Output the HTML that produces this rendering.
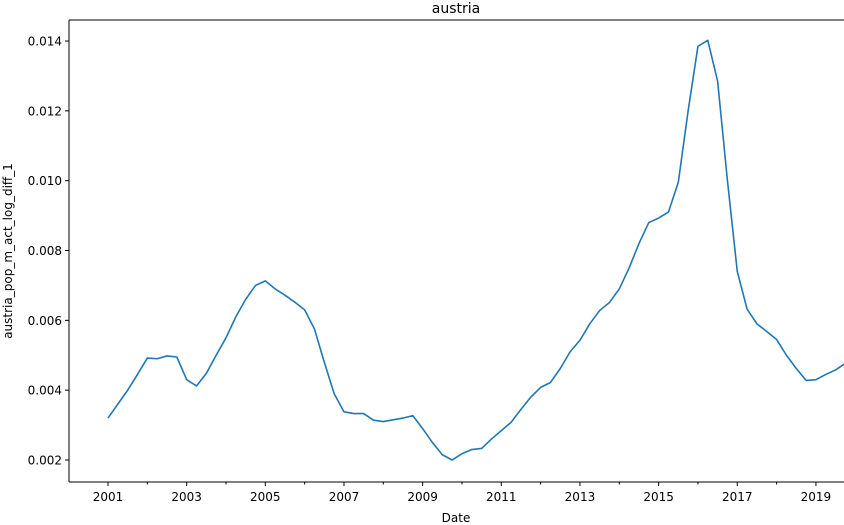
<!DOCTYPE html>
<html><head><meta charset="utf-8"><style>
html,body{margin:0;padding:0;background:#fff;}
svg{display:block;font-family:"DejaVu Sans","Liberation Sans",sans-serif;}
</style></head><body>
<svg id="chart" width="844" height="525" viewBox="0 0 844 525" xmlns="http://www.w3.org/2000/svg"></svg>
<script>
const startYear = 2001;
const values = [0.0032,0.0036,0.0040,0.00445,0.00492,0.0049,0.00498,0.00495,
0.0043,0.00412,0.00448,0.0050,0.0055,0.0061,0.0066,0.0070,
0.00713,0.0069,0.00672,0.00652,0.0063,0.00575,0.0048,0.0039,
0.00338,0.00333,0.00333,0.00314,0.0031,0.00315,0.0032,0.00327,
0.0029,0.0025,0.00215,0.0020,0.00218,0.0023,0.00233,0.0026,
0.00284,0.00308,0.00345,0.0038,0.00408,0.00422,0.00462,0.0051,
0.00543,0.0059,0.00628,0.00651,0.0069,0.0075,0.0082,0.0088,
0.00893,0.0091,0.00995,0.0120,0.01385,0.01402,0.01285,0.0100,
0.0074,0.00632,0.0059,0.00568,0.00545,0.0050,0.00462,0.00428,
0.0043,0.00445,0.00458,0.00477];
const yTicks = [0.002,0.004,0.006,0.008,0.010,0.012,0.014];
const yTickLabels = ["0.002","0.004","0.006","0.008","0.010","0.012","0.014"];
const xMajorYears = [2001,2003,2005,2007,2009,2011,2013,2015,2017,2019];
const xMinorYears = [2000,2002,2004,2006,2008,2010,2012,2014,2016,2018];

const NS="http://www.w3.org/2000/svg";
const svg=document.getElementById('chart');
const L=69,T=20,B=482,R=844;
function x(t){return 108+(t-2001)*39.33;}
function y(v){return 460-(v-0.002)/0.002*69.83;}
function mk(tag,attrs,parent){const e=document.createElementNS(NS,tag);for(const k in attrs)e.setAttribute(k,attrs[k]);(parent||svg).appendChild(e);return e;}

let e=mk('line',{x1:L,y1:T,x2:L,y2:B,stroke:'#000','stroke-width':1});


e=mk('line',{x1:L,y1:B,x2:R,y2:B,stroke:'#000','stroke-width':1});


e=mk('line',{x1:L,y1:T,x2:R,y2:T,stroke:'#000','stroke-width':1});



yTicks.forEach((v,i)=>{
  const yy=y(v);
  let t=mk('line',{x1:L-4,y1:yy,x2:L,y2:yy,stroke:'#000'});
  
  
  let lb=mk('text',{x:L-7,y:yy+4.5,'text-anchor':'end','font-size':12,fill:'#000'});
  lb.textContent=yTickLabels[i];
  
  
});
xMajorYears.forEach(yr=>{
  const xx=x(yr);
  let t=mk('line',{x1:xx,y1:B,x2:xx,y2:B+4,stroke:'#000'});
  
  
  let lb=mk('text',{x:xx,y:B+19,'text-anchor':'middle','font-size':12,fill:'#000'});
  lb.textContent=String(yr);
  
  
});
xMinorYears.forEach(yr=>{
  const xx=x(yr);
  if(xx<L)return;
  let t=mk('line',{x1:xx,y1:B,x2:xx,y2:B+2.5,stroke:'#000'});
  
  
});
const pts=values.map((v,i)=>x(startYear+i*0.25).toFixed(2)+','+y(v).toFixed(2)).join(' ');
e=mk('polyline',{points:pts,fill:'none',stroke:'#1f77b4','stroke-width':1.6,'stroke-linejoin':'round'});


e=mk('text',{x:456,y:13,'text-anchor':'middle','font-size':14,fill:'#000'});
e.textContent='austria';


e=mk('text',{x:456,y:522,'text-anchor':'middle','font-size':12,fill:'#000'});
e.textContent='Date';


e=mk('text',{x:0,y:0,'text-anchor':'middle','font-size':12,fill:'#000',transform:'translate(12,251) rotate(-90)'});
e.textContent='austria_pop_m_act_log_diff_1';


</script>
</body></html>
